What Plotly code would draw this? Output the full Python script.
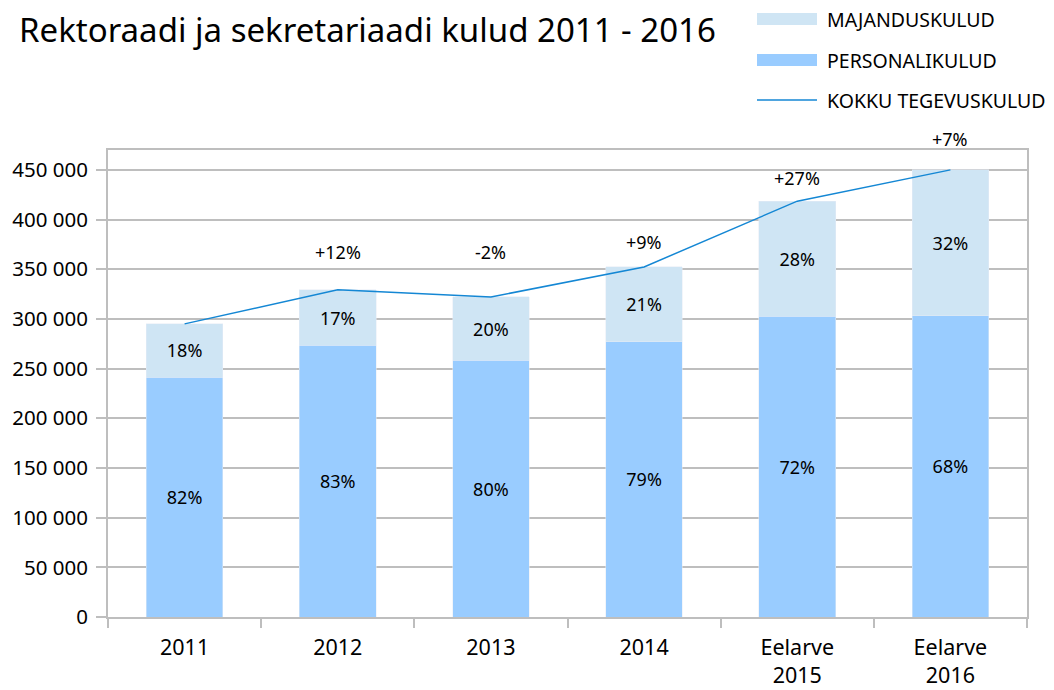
import plotly.graph_objects as go

categories = ["2011", "2012", "2013", "2014", "Eelarve<br>2015", "Eelarve<br>2016"]
personalikulud = [241500, 273500, 258500, 277000, 302500, 303000]
majanduskulud = [53500, 55800, 63600, 75300, 116000, 147000]
kokku = [p + m for p, m in zip(personalikulud, majanduskulud)]
personal_pct = ["82%", "83%", "80%", "79%", "72%", "68%"]
majand_pct = ["18%", "17%", "20%", "21%", "28%", "32%"]
growth = [None, "+12%", "-2%", "+9%", "+27%", "+7%"]
growth_offsets = [0, 38, 45, 25, 23, 31]

FONT = "Noto Sans"
C_PERS = "#99CCFF"
C_MAJ = "#CFE5F4"
C_LINE = "#1487D4"
GRID = "#BEBEBE"

fig = go.Figure()
fig.add_bar(x=categories, y=personalikulud, name="PERSONALIKULUD", marker_color=C_PERS,
            text=personal_pct, textposition="inside", insidetextanchor="middle",
            textfont=dict(size=18, color="#000000", family=FONT))
fig.add_bar(x=categories, y=majanduskulud, name="MAJANDUSKULUD", marker_color=C_MAJ,
            text=majand_pct, textposition="inside", insidetextanchor="middle",
            textfont=dict(size=18, color="#000000", family=FONT))
fig.add_scatter(x=categories, y=kokku, mode="lines", name="KOKKU TEGEVUSKULUD",
                line=dict(color=C_LINE, width=1.5))

annotations = []
for i, (v, g, off) in enumerate(zip(kokku, growth, growth_offsets)):
    if g:
        annotations.append(dict(x=i, y=v, text=g, showarrow=False, yshift=off,
                                yanchor="middle", font=dict(size=18, color="#000", family=FONT)))

# title
annotations.append(dict(xref="paper", yref="paper", x=(17 - 108) / 919, y=(617 - 29) / 467,
                        xanchor="left", yanchor="middle", showarrow=False,
                        text="Rektoraadi ja sekretariaadi kulud 2011 - 2016",
                        font=dict(size=33, color="#000", family=FONT)))

# manual legend
def px_x(px):
    return (px - 108) / 919

def px_y(py):
    return (617 - py) / 467

legend_items = [("MAJANDUSKULUD", C_MAJ, "rect", 19),
                ("PERSONALIKULUD", C_PERS, "rect", 60),
                ("KOKKU TEGEVUSKULUD", C_LINE, "line", 100)]
shapes = []
for label, col, kind, cy in legend_items:
    if kind == "rect":
        shapes.append(dict(type="rect", xref="paper", yref="paper", x0=px_x(757), x1=px_x(817),
                           y0=px_y(cy - 6), y1=px_y(cy + 6), fillcolor=col, line=dict(width=0)))
    else:
        shapes.append(dict(type="line", xref="paper", yref="paper", x0=px_x(757), x1=px_x(817),
                           y0=px_y(cy), y1=px_y(cy), line=dict(color=col, width=1.5)))
    annotations.append(dict(xref="paper", yref="paper", x=px_x(825), y=px_y(cy), xanchor="left",
                            yanchor="middle", showarrow=False, text=label,
                            font=dict(size=19.5, color="#000", family=FONT)))

fig.update_layout(
    width=1054, height=690,
    barmode="stack", bargap=0.5,
    showlegend=False,
    plot_bgcolor="white", paper_bgcolor="white",
    margin=dict(l=108, r=27, t=150, b=73, autoexpand=False),
    separators=", ",
    font=dict(family=FONT, color="#000"),
    annotations=annotations, shapes=shapes,
)
fig.update_xaxes(type="category", range=[-0.5, len(categories) - 0.5], automargin=False,
                 tickangle=0, showgrid=False, showline=True,
                 linecolor=GRID, linewidth=2, mirror=True,
                 ticks="outside", tickson="boundaries", ticklen=9, tickcolor=GRID, tickwidth=2,
                 ticklabelstandoff=10,
                 tickfont=dict(size=21.5, family=FONT, color="#000"))
fig.update_yaxes(automargin=False, range=[0, 470000], dtick=50000, tickformat=",d", showgrid=True,
                 gridcolor=GRID, gridwidth=2, showline=True, linecolor=GRID, linewidth=2, mirror=True,
                 ticks="outside", ticklen=10, tickcolor=GRID, tickwidth=2, zeroline=False,
                 ticklabelstandoff=4,
                 tickfont=dict(size=20.5, family=FONT, color="#000"))

fig.write_html("out.html", config={"displayModeBar": False},
               post_script="document.body.style.margin='0';")
